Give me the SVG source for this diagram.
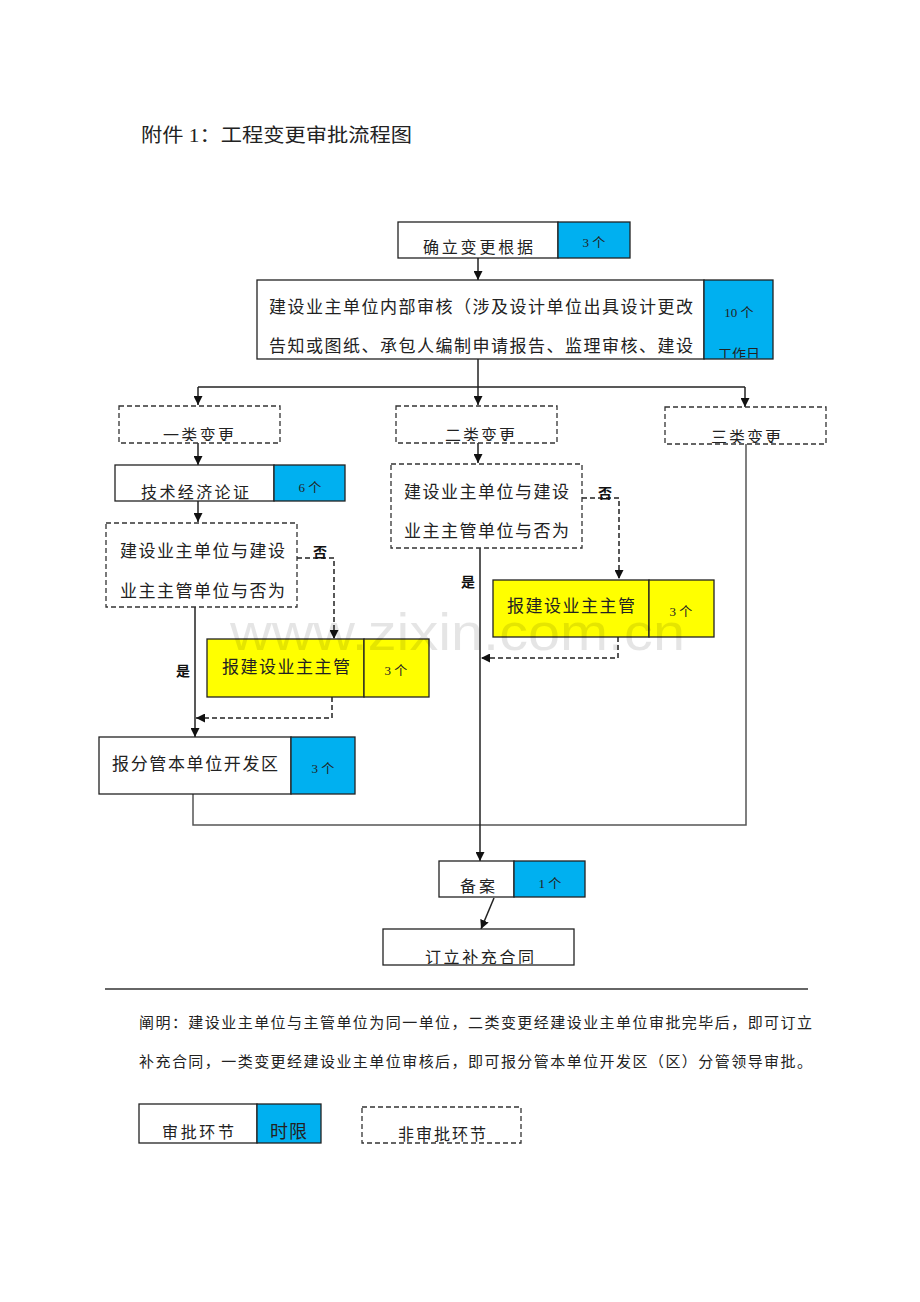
<svg xmlns="http://www.w3.org/2000/svg" width="920" height="1302" viewBox="0 0 920 1302">
<style>
text{font-family:"Liberation Serif","Noto Sans CJK SC",serif;fill:#222}
.t{font-size:17px}
.s{font-size:13px;text-anchor:middle}
.m{font-size:16px}
.lab{font-family:"Liberation Sans","Noto Sans CJK SC",sans-serif;font-size:14px;font-weight:bold;text-anchor:middle;fill:#111}
.box{fill:#fff;stroke:#222;stroke-width:1.3}
.blue{fill:#00B0F0;stroke:#222;stroke-width:1.3}
.yel{fill:#FFFF00;stroke:#222;stroke-width:1.3}
.dash{fill:#fff;stroke:#333;stroke-width:1.3;stroke-dasharray:5,3}
.ln{fill:none;stroke:#222;stroke-width:1.5}
.dl{fill:none;stroke:#222;stroke-width:1.5;stroke-dasharray:5,3}
.gl{fill:none;stroke:#555;stroke-width:1.5}
</style>
<defs>
<marker id="ah" viewBox="0 0 10 10" refX="10" refY="5" markerWidth="9" markerHeight="9" markerUnits="userSpaceOnUse" orient="auto">
<path d="M0,0 L10,5 L0,10 z" fill="#111"/>
</marker>
<clipPath id="c1"><rect x="0" y="0" width="920" height="255"/></clipPath>
<clipPath id="c2"><rect x="0" y="0" width="920" height="358"/></clipPath>
<clipPath id="c3"><rect x="0" y="0" width="920" height="441"/></clipPath>
<clipPath id="c4"><rect x="0" y="0" width="920" height="443"/></clipPath>
<clipPath id="c5"><rect x="0" y="0" width="920" height="964"/></clipPath>
</defs>
<rect width="920" height="1302" fill="#fff"/>

<text x="141" y="142" style="font-size:19px" textLength="271" lengthAdjust="spacingAndGlyphs">附件 1：工程变更审批流程图</text>

<g id="connectors">
<path class="ln" d="M478,258 V280" marker-end="url(#ah)"/>
<path class="ln" d="M478,359 V387"/>
<path class="ln" d="M198,387 H745"/>
<path class="ln" d="M198,387 V405" marker-end="url(#ah)"/>
<path class="ln" d="M478,387 V405" marker-end="url(#ah)"/>
<path class="ln" d="M745,387 V407" marker-end="url(#ah)"/>
<path class="ln" d="M198,442 V465" marker-end="url(#ah)"/>
<path class="ln" d="M198,501 V522" marker-end="url(#ah)"/>
<path class="dl" d="M297,558 H334 V639" marker-end="url(#ah)"/>
<path class="ln" d="M195,607 V737" marker-end="url(#ah)"/>
<path class="dl" d="M332,697 V718 H196" marker-end="url(#ah)"/>
<path class="gl" d="M193,794 V825 H746 V444"/>
<path class="ln" d="M478,442 V463" marker-end="url(#ah)"/>
<path class="dl" d="M582,498 H619 V579" marker-end="url(#ah)"/>
<path class="ln" d="M480,548 V861" marker-end="url(#ah)"/>
<path class="dl" d="M618,637 V658 H481" marker-end="url(#ah)"/>
<path class="ln" d="M494,898 L481,929" marker-end="url(#ah)"/>
</g>

<g id="n-basis">
<rect class="box" x="398" y="222" width="160" height="36"/>
<rect class="blue" x="558" y="222" width="72" height="36"/>
<text class="m" x="423" y="253" textLength="110" lengthAdjust="spacing" clip-path="url(#c1)">确立变更根据</text>
<text class="s" x="594" y="247">3 个</text>
</g>

<g id="n-internal">
<rect class="box" x="257" y="280" width="447" height="79"/>
<rect class="blue" x="704" y="280" width="69" height="79"/>
<text class="t" x="269" y="313" textLength="424" lengthAdjust="spacing">建设业主单位内部审核（涉及设计单位出具设计更改</text>
<text class="t" x="269" y="352" textLength="424" lengthAdjust="spacing">告知或图纸、承包人编制申请报告、监理审核、建设</text>
<text class="s" x="739" y="317">10 个</text>
<text class="s" x="739" y="359" clip-path="url(#c2)" style="font-size:14px">工作日</text>
</g>

<g id="n-type1">
<rect class="dash" x="119" y="406" width="161" height="37"/>
<text class="m" x="163" y="441" textLength="71" lengthAdjust="spacing" clip-path="url(#c3)">一类变更</text>
</g>
<g id="n-type2">
<rect class="dash" x="396" y="406" width="161" height="37"/>
<text class="m" x="445" y="441" textLength="70" lengthAdjust="spacing" clip-path="url(#c3)">二类变更</text>
</g>
<g id="n-type3">
<rect class="dash" x="665" y="407" width="161" height="37"/>
<text class="m" x="711" y="443" textLength="70" lengthAdjust="spacing" clip-path="url(#c4)">三类变更</text>
</g>

<g id="n-tech">
<rect class="box" x="115" y="465" width="159" height="36"/>
<rect class="blue" x="274" y="465" width="71" height="36"/>
<text class="m" x="141" y="498" textLength="108" lengthAdjust="spacing">技术经济论证</text>
<text class="s" x="310" y="492">6 个</text>
</g>

<g id="n-q1">
<rect class="dash" x="106" y="523" width="191" height="84"/>
<text class="t" x="120" y="557" textLength="165" lengthAdjust="spacing">建设业主单位与建设</text>
<text class="t" x="120" y="597" textLength="165" lengthAdjust="spacing">业主主管单位与否为</text>
</g>
<text class="lab" x="320" y="557">否</text>
<text class="lab" x="183" y="676">是</text>

<g id="n-report1">
<rect class="yel" x="207" y="639" width="157" height="58"/>
<rect class="yel" x="364" y="639" width="65" height="58"/>
<text class="t" x="222" y="673" textLength="128" lengthAdjust="spacing">报建设业主主管</text>
<text class="s" x="396" y="675">3 个</text>
</g>

<g id="n-district">
<rect class="box" x="99" y="737" width="192" height="57"/>
<rect class="blue" x="291" y="737" width="64" height="57"/>
<text class="t" x="112" y="770" textLength="166" lengthAdjust="spacing">报分管本单位开发区</text>
<text class="s" x="323" y="773">3 个</text>
</g>

<g id="n-q2">
<rect class="dash" x="391" y="464" width="191" height="84"/>
<text class="t" x="404" y="498" textLength="165" lengthAdjust="spacing">建设业主单位与建设</text>
<text class="t" x="404" y="537" textLength="165" lengthAdjust="spacing">业主主管单位与否为</text>
</g>
<text class="lab" x="605" y="498">否</text>
<text class="lab" x="468" y="587">是</text>

<g id="n-report2">
<rect class="yel" x="493" y="580" width="156" height="57"/>
<rect class="yel" x="649" y="580" width="65" height="57"/>
<text class="t" x="507" y="612" textLength="128" lengthAdjust="spacing">报建设业主主管</text>
<text class="s" x="681" y="616">3 个</text>
</g>

<g id="n-file">
<rect class="box" x="439" y="861" width="75" height="36"/>
<rect class="blue" x="514" y="861" width="71" height="36"/>
<text class="m" x="460" y="892" textLength="35" lengthAdjust="spacing">备案</text>
<text class="s" x="550" y="888">1 个</text>
</g>

<g id="n-contract">
<rect class="box" x="383" y="929" width="191" height="36"/>
<text class="m" x="425" y="963" textLength="109" lengthAdjust="spacing" clip-path="url(#c5)">订立补充合同</text>
</g>

<line x1="105" y1="989" x2="808" y2="989" stroke="#333" stroke-width="1.5"/>

<g id="note">
<text x="139" y="1028" style="font-size:15px" textLength="673" lengthAdjust="spacing">阐明：建设业主单位与主管单位为同一单位，二类变更经建设业主单位审批完毕后，即可订立</text>
<text x="139" y="1067" style="font-size:15px" textLength="673" lengthAdjust="spacing">补充合同，一类变更经建设业主单位审核后，即可报分管本单位开发区（区）分管领导审批。</text>
</g>

<g id="legend-approval">
<rect class="box" x="139" y="1104" width="118" height="39"/>
<rect class="blue" x="257" y="1104" width="64" height="39"/>
<text class="m" x="162" y="1138" textLength="72" lengthAdjust="spacing">审批环节</text>
<text x="270" y="1138" style="font-size:18px" textLength="37" lengthAdjust="spacing">时限</text>
</g>
<g id="legend-nonapproval">
<rect class="dash" x="362" y="1107" width="159" height="36"/>
<text class="m" x="398" y="1140" textLength="88" lengthAdjust="spacing">非审批环节</text>
</g>

<text x="230" y="650" style="font-family:'Liberation Sans',sans-serif;font-size:52px;fill:#000;fill-opacity:0.1" textLength="455" lengthAdjust="spacingAndGlyphs">www.zixin.com.cn</text>
</svg>
